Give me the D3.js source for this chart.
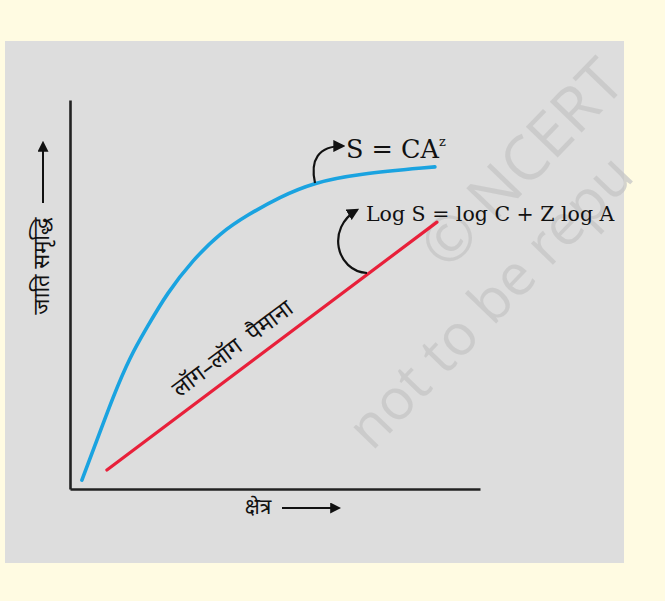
<!DOCTYPE html>
<html>
<head>
<meta charset="utf-8">
<script src="https://cdn.jsdelivr.net/npm/d3@7"></script>
<style>
  html, body { margin: 0; padding: 0; background: #fffbe2; }
  svg { display: block; }
</style>
</head>
<body>
<div id="chart"></div>
<script>
// ========================
// DATA
// ========================
// area (x) and species richness (y), arbitrary 0-100 units
const curveArea    = [2.9, 6.6, 10.5, 14.6, 18.8, 23.7, 30.0, 36.6, 43.2, 51.2, 59.3, 70.0, 89.0];
const curveSpecies = [2.3, 12.6, 23.7, 33.9, 41.6, 50.4, 58.9, 65.8, 70.4, 75.1, 78.7, 81.0, 82.8];
const lineArea     = [9.0, 89.5];
const lineSpecies  = [4.9, 68.6];

const xLabel = "क्षेत्र";
const yLabel = "जाति समृद्धि";
const lineLabel = "लॉग–लॉग\u00A0\u00A0पैमाना";
const powerLabel = "S = CA";
const logLabel = "Log S = log C + Z log A";

// ========================
// SETUP
// ========================
const width = 665, height = 601;
const svg = d3.select("#chart").append("svg")
    .attr("width", width)
    .attr("height", height);

const defs = svg.append("defs");
defs.append("marker")
    .attr("id", "head")
    .attr("viewBox", "0 0 10 10")
    .attr("refX", 8).attr("refY", 5)
    .attr("markerWidth", 5.5).attr("markerHeight", 5.5)
    .attr("orient", "auto")
    .append("path")
    .attr("d", "M0,0 L10,5 L0,10 z")
    .attr("fill", "#111");

// grey panel
svg.append("rect")
    .attr("x", 5).attr("y", 41)
    .attr("width", 619).attr("height", 522)
    .attr("fill", "#dddddd");

const x = d3.scaleLinear().domain([0, 100]).range([70, 480]);
const y = d3.scaleLinear().domain([0, 100]).range([489, 100]);

// watermark
const wm = svg.append("g")
    .attr("font-family", "'Open Sans', sans-serif")
    .attr("fill", "#c6c6c6")
    .attr("opacity", 0.75);
wm.append("text")
    .attr("transform", "translate(447,272) rotate(-46)")
    .attr("font-size", 62)
    .text("© NCERT");
wm.append("text")
    .attr("transform", "translate(372,452) rotate(-46)")
    .attr("font-size", 57)
    .text("not to be repu");

// axes
const axisColor = "#222";
svg.append("g")
    .attr("transform", `translate(0,${y(0)})`)
    .call(d3.axisBottom(x).ticks(0).tickSizeOuter(0))
    .call(g => g.select(".domain").attr("stroke", axisColor).attr("stroke-width", 2.6));
svg.append("g")
    .attr("transform", `translate(${x(0)},0)`)
    .call(d3.axisLeft(y).ticks(0).tickSizeOuter(0))
    .call(g => g.select(".domain").attr("stroke", axisColor).attr("stroke-width", 2.6));

// blue curve S = CA^z
const curvePts = curveArea.map((a, i) => [a, curveSpecies[i]]);
svg.append("path")
    .datum(curvePts)
    .attr("d", d3.line().x(d => x(d[0])).y(d => y(d[1])).curve(d3.curveBasis))
    .attr("fill", "none")
    .attr("stroke", "#1aa3e0")
    .attr("stroke-width", 3.6)
    .attr("stroke-linecap", "round");

// red log-log line
const linePts = lineArea.map((a, i) => [a, lineSpecies[i]]);
svg.append("path")
    .datum(linePts)
    .attr("d", d3.line().x(d => x(d[0])).y(d => y(d[1])))
    .attr("fill", "none")
    .attr("stroke", "#e8203a")
    .attr("stroke-width", 3.2)
    .attr("stroke-linecap", "round");

// label along red line
const p0 = [x(lineArea[0]), y(lineSpecies[0])];
const p1 = [x(lineArea[1]), y(lineSpecies[1])];
const ang = Math.atan2(p1[1] - p0[1], p1[0] - p0[0]);
const t = 0.42;
const mid = [p0[0] + (p1[0] - p0[0]) * t, p0[1] + (p1[1] - p0[1]) * t];
const off = 14;
svg.append("text")
    .attr("transform", `translate(${mid[0] + Math.sin(ang) * off},${mid[1] - Math.cos(ang) * off}) rotate(${ang * 180 / Math.PI})`)
    .attr("text-anchor", "middle")
    .attr("font-family", "'Noto Sans', 'Noto Sans Devanagari', sans-serif")
    .attr("font-size", 23)
    .attr("fill", "#111")
    .text(lineLabel);

// equation labels
svg.append("text")
    .attr("x", 346).attr("y", 158)
    .attr("font-family", "'DejaVu Serif', serif")
    .attr("font-size", 25.5)
    .attr("fill", "#111")
    .text(powerLabel)
    .append("tspan")
    .attr("dy", -12)
    .attr("font-size", 13)
    .text("z");

svg.append("text")
    .attr("x", 366).attr("y", 221)
    .attr("font-family", "'DejaVu Serif', serif")
    .attr("font-size", 20.5)
    .attr("fill", "#111")
    .text(logLabel);

// curved pointer arrows
svg.append("path")
    .attr("d", "M315,183 C310,160 318,146 343,146")
    .attr("fill", "none").attr("stroke", "#111").attr("stroke-width", 2.2)
    .attr("marker-end", "url(#head)");
svg.append("path")
    .attr("d", "M367,273 C336,271 326,228 357,210")
    .attr("fill", "none").attr("stroke", "#111").attr("stroke-width", 2.2)
    .attr("marker-end", "url(#head)");

// axis titles with arrows
svg.append("text")
    .attr("transform", "translate(49,266) rotate(-90)")
    .attr("text-anchor", "middle")
    .attr("font-family", "'Noto Sans', 'Noto Sans Devanagari', sans-serif")
    .attr("font-size", 22)
    .attr("fill", "#111")
    .text(yLabel);
svg.append("line")
    .attr("x1", 43).attr("y1", 203).attr("x2", 43).attr("y2", 143)
    .attr("stroke", "#111").attr("stroke-width", 2)
    .attr("marker-end", "url(#head)");

svg.append("text")
    .attr("x", 258).attr("y", 514)
    .attr("text-anchor", "middle")
    .attr("font-family", "'Noto Sans', 'Noto Sans Devanagari', sans-serif")
    .attr("font-size", 21)
    .attr("fill", "#111")
    .text(xLabel);
svg.append("line")
    .attr("x1", 282).attr("y1", 508).attr("x2", 339).attr("y2", 508)
    .attr("stroke", "#111").attr("stroke-width", 2)
    .attr("marker-end", "url(#head)");
</script>
</body>
</html>
